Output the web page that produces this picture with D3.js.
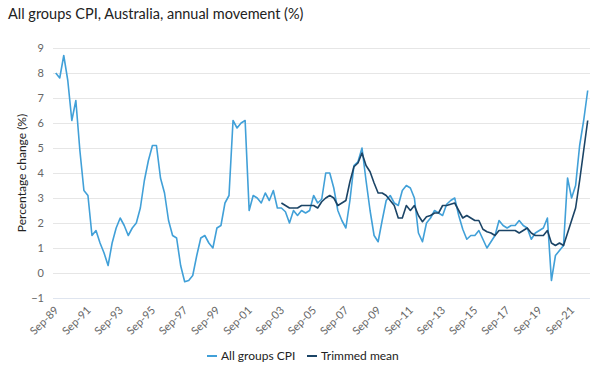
<!DOCTYPE html>
<html>
<head>
<meta charset="utf-8">
<script src="https://cdn.jsdelivr.net/npm/d3@7"></script>
<style>
  body { margin: 0; background: #fff; }
  svg { display: block; font-family: Lato, 'Noto Sans', sans-serif; }
</style>
</head>
<body>
<div id="chart"></div>
<script>
'use strict';
// Quarters Sep-89 .. Sep-22
const months = ['Mar', 'Jun', 'Sep', 'Dec']
const quarters = []
for (let yr = 1989; yr <= 2022; yr++) {
  months.forEach((m, q) => {
    if ((yr === 1989 && q < 2) || (yr === 2022 && q > 2)) return
    quarters.push(`${m}-${String(yr % 100).padStart(2, '0')}`)
  })
}
const tickLabels = ['Sep-89', 'Sep-91', 'Sep-93', 'Sep-95', 'Sep-97', 'Sep-99', 'Sep-01', 'Sep-03', 'Sep-05',
  'Sep-07', 'Sep-09', 'Sep-11', 'Sep-13', 'Sep-15', 'Sep-17', 'Sep-19', 'Sep-21']
const yTicks = [-1, 0, 1, 2, 3, 4, 5, 6, 7, 8, 9]

// All groups CPI, annual % (Sep-89 onwards)
const cpiValues = [
  8.0, 7.8,
  8.7, 7.7, 6.1, 6.9,
  4.9, 3.3, 3.1, 1.5,
  1.7, 1.2, 0.8, 0.3,
  1.2, 1.8, 2.2, 1.9,
  1.5, 1.8, 2.0, 2.6,
  3.7, 4.5, 5.1, 5.1,
  3.8, 3.2, 2.1, 1.5,
  1.4, 0.3, -0.35, -0.3,
  -0.1, 0.7, 1.4, 1.5,
  1.2, 1.0, 1.8, 1.9,
  2.8, 3.1, 6.1, 5.8,
  6.0, 6.1, 2.5, 3.1,
  3.0, 2.8, 3.2, 2.9,
  3.3, 2.6, 2.6, 2.45,
  2.0, 2.5, 2.3, 2.5,
  2.4, 2.5, 3.1, 2.8,
  2.95, 4.0, 4.0, 3.4,
  2.5, 2.1, 1.8, 2.9,
  4.3, 4.45, 5.0, 3.7,
  2.5, 1.5, 1.25, 2.1,
  2.9, 3.1, 2.8, 2.7,
  3.3, 3.5, 3.4, 3.0,
  1.6, 1.25, 2.0, 2.2,
  2.5, 2.4, 2.3, 2.75,
  2.9, 3.0, 2.3, 1.75,
  1.35, 1.5, 1.5, 1.7,
  1.35, 1.0, 1.25, 1.5,
  2.1, 1.9, 1.8, 1.9,
  1.9, 2.1, 1.9, 1.8,
  1.35, 1.6, 1.7, 1.8,
  2.2, -0.3, 0.7, 0.9,
  1.1, 3.8, 3.0, 3.5,
  5.1, 6.1, 7.3
]

// Trimmed mean, annual % (Sep-03 onwards)
const trimmedStart = 'Sep-03'
const trimmedValues = [
  2.8, 2.7,
  2.6, 2.6, 2.6, 2.7,
  2.7, 2.7, 2.7, 2.6,
  2.85, 3.0, 3.1, 3.0,
  2.7, 2.8, 2.9, 3.65,
  4.25, 4.4, 4.8, 4.3,
  4.05, 3.6, 3.2, 3.2,
  3.1, 2.9, 2.7, 2.2,
  2.2, 2.7, 2.5, 2.7,
  2.3, 2.05, 2.25, 2.3,
  2.4, 2.4, 2.7, 2.7,
  2.75, 2.8, 2.5, 2.2,
  2.3, 2.2, 2.1, 2.1,
  1.75, 1.65, 1.6, 1.5,
  1.7, 1.7, 1.7, 1.7,
  1.7, 1.6, 1.7, 1.8,
  1.6, 1.5, 1.5, 1.5,
  1.7, 1.2, 1.1, 1.2,
  1.1, 1.6, 2.1, 2.6,
  3.7, 4.9, 6.1
]

const seriesNames = ['All groups CPI', 'Trimmed mean']
const colors = ['#41a0d8', '#1b4466']

const W = 601, H = 375
const plot = { left: 53, right: 590, top: 48, bottom: 298 }

const svg = d3.select('#chart').append('svg')
  .attr('width', W)
  .attr('height', H)

const x = d3.scalePoint().domain(quarters).range([55.7, 587.7])
const y = d3.scaleLinear().domain([-1, 9]).range([plot.bottom, plot.top])

const cpiData = cpiValues.map((v, i) => ({ q: quarters[i], v }))
const t0 = quarters.indexOf(trimmedStart)
const trimmedData = trimmedValues.map((v, i) => ({ q: quarters[t0 + i], v }))

// Title
svg.append('text')
  .attr('x', 8)
  .attr('y', 19)
  .attr('fill', '#222')
  .attr('font-size', 14.5)
  .text('All groups CPI, Australia, annual movement (%)')

// Horizontal gridlines
const yGrid = d3.axisLeft(y).tickValues(yTicks).tickSize(-(plot.right - plot.left)).tickFormat('')
svg.append('g')
  .attr('transform', `translate(${plot.left},0)`)
  .call(yGrid)
  .call(g => g.select('.domain').remove())
  .call(g => g.selectAll('line').attr('stroke', d => d === -1 ? '#dfe5ef' : '#e6e6e6'))

// Y axis labels
svg.append('g')
  .attr('transform', `translate(${plot.left},0)`)
  .call(d3.axisLeft(y).tickValues(yTicks).tickSize(0).tickPadding(9))
  .call(g => g.select('.domain').remove())
  .call(g => g.selectAll('text')
    .attr('fill', '#666')
    .attr('font-size', 11)
    .attr('font-family', 'Lato, sans-serif'))

// X axis labels, rotated
svg.append('g')
  .attr('transform', `translate(0,${plot.bottom})`)
  .call(d3.axisBottom(x).tickValues(tickLabels).tickSize(0).tickPadding(0))
  .call(g => g.select('.domain').remove())
  .call(g => g.selectAll('text')
    .attr('fill', '#666')
    .attr('font-size', 11)
    .attr('font-family', 'Lato, sans-serif')
    .attr('text-anchor', 'end')
    .attr('dy', null)
    .attr('y', 0)
    .attr('transform', 'translate(3,13) rotate(-45)'))

// Y axis title
svg.append('text')
  .attr('transform', `translate(26,${(plot.top + plot.bottom) / 2}) rotate(-90)`)
  .attr('text-anchor', 'middle')
  .attr('fill', '#222')
  .attr('font-size', 12)
  .text('Percentage change (%)')

// Lines
const line = d3.line()
  .x(d => x(d.q))
  .y(d => y(d.v))

svg.append('path').datum(cpiData)
  .attr('d', line)
  .attr('fill', 'none')
  .attr('stroke', colors[0])
  .attr('stroke-width', 1.6)
  .attr('stroke-linejoin', 'round')

svg.append('path').datum(trimmedData)
  .attr('d', line)
  .attr('fill', 'none')
  .attr('stroke', colors[1])
  .attr('stroke-width', 1.6)
  .attr('stroke-linejoin', 'round')

// Legend
const legendX = [207, 307]
const legend = svg.append('g')
seriesNames.forEach((name, i) => {
  legend.append('line')
    .attr('x1', legendX[i])
    .attr('x2', legendX[i] + 10)
    .attr('y1', 356)
    .attr('y2', 356)
    .attr('stroke', colors[i])
    .attr('stroke-width', 2)
  legend.append('text')
    .attr('x', legendX[i] + 14)
    .attr('y', 360)
    .attr('fill', '#222')
    .attr('font-size', 12)
    .text(name)
})
</script>
</body>
</html>
